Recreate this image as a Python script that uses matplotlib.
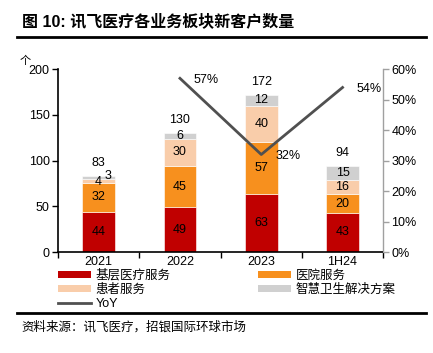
import matplotlib
matplotlib.use("Agg")
import matplotlib.pyplot as plt
import numpy as np
from matplotlib.lines import Line2D
from matplotlib.patches import Patch

plt.rcParams['font.family'] = ['Liberation Sans', 'Noto Sans CJK SC', 'DejaVu Sans']

categories = ['2021', '2022', '2023', '1H24']
primary = [44, 49, 63, 43]      # 基层医疗服务
hospital = [32, 45, 57, 20]     # 医院服务
patient = [4, 30, 40, 16]       # 患者服务
smart = [3, 6, 12, 15]          # 智慧卫生解决方案
totals = [83, 130, 172, 94]
yoy_cats = ['2022', '2023', '1H24']
yoy = [0.57, 0.32, 0.54]
yoy_labels = ['57%', '32%', '54%']

series_names = ['基层医疗服务', '医院服务', '患者服务', '智慧卫生解决方案']
colors = ['#C00000', '#F7901E', '#F9CDAA', '#D0D0D0']

fig = plt.figure(figsize=(4.33, 3.53), dpi=100)
ax = fig.add_axes([0.134, 0.286, 0.751, 0.518])
ax2 = ax.twinx()

x = np.arange(len(categories))
w = 0.4
bottom = np.zeros(len(categories))
for vals, c in zip([primary, hospital, patient, smart], colors):
    ax.bar(x, vals, w, bottom=bottom, color=c, edgecolor='white', linewidth=0.4, zorder=2)
    bottom += np.array(vals)

# segment labels
bottom = np.zeros(len(categories))
for si, vals in enumerate([primary, hospital, patient, smart]):
    for i, v in enumerate(vals):
        cy = bottom[i] + v / 2
        cx = x[i]
        if categories[i] == '2021' and si == 3:
            ax.text(cx + 0.12, cy + 2, str(v), ha='center', va='center', fontsize=9, color='black', zorder=5)
        elif categories[i] == '2021' and si == 2:
            ax.text(cx, cy - 1, str(v), ha='center', va='center', fontsize=9, color='black', zorder=5)
        else:
            ax.text(cx, cy, str(v), ha='center', va='center', fontsize=9, color='black', zorder=5)
    bottom += np.array(vals)

for i, t in enumerate(totals):
    ax.text(x[i], t + 14, str(t), ha='center', va='center', fontsize=9, color='black')

yx = [categories.index(c) for c in yoy_cats]
ax2.plot(yx, yoy, color='#505050', linewidth=2, zorder=3)
for xi, v, lab in zip(yx, yoy, yoy_labels):
    ax2.text(xi + 0.17, v - 0.005, lab, ha='left', va='center', fontsize=9, color='black')

ax.set_xlim(-0.5, 3.5)
ax.set_ylim(0, 200)
ax.set_yticks([0, 50, 100, 150, 200])
ax2.set_ylim(0, 0.6)
ax2.set_yticks(np.arange(0, 0.61, 0.1))
ax2.set_yticklabels([f'{int(round(v*100))}%' for v in np.arange(0, 0.61, 0.1)])

ax.set_xticks(x)
ax.set_xticklabels(categories)
ax.set_xticks(np.arange(-0.5, 4.0, 1), minor=True)
ax.tick_params(axis='x', which='major', length=0, labelsize=9, pad=3)
ax.tick_params(axis='x', which='minor', length=4, direction='out', width=1)
ax.tick_params(axis='y', labelsize=9, length=4, width=1, direction='out', pad=2)
ax2.tick_params(axis='y', labelsize=9, length=4, width=1, direction='out', colors='black', pad=2)

for a in (ax, ax2):
    a.spines['top'].set_visible(False)
ax.spines['left'].set_linewidth(1.2)
ax.spines['bottom'].set_linewidth(1.2)
ax2.spines['left'].set_visible(False)
ax2.spines['bottom'].set_visible(False)
ax2.spines['right'].set_color('#A0A0A0')
ax2.tick_params(axis='y', color='#A0A0A0', labelcolor='black')

ax.text(-0.1, 1.02, '个', transform=ax.transAxes, fontsize=8, ha='center', va='bottom',
        family=['Noto Sans CJK SC'])

# legend
handles = [Patch(facecolor=colors[0]), Patch(facecolor=colors[1]),
           Patch(facecolor=colors[2]), Patch(facecolor=colors[3]),
           Line2D([0], [0], color='#505050', linewidth=2)]
labels = series_names + ['YoY']
order = [0, 2, 4, 1, 3]
leg = fig.legend([handles[i] for i in order], [labels[i] for i in order], ncol=2,
                 loc='upper left', bbox_to_anchor=(0.12, 0.255), frameon=False,
                 handlelength=2.6, handleheight=0.5, labelspacing=0.15,
                 columnspacing=7.0, handletextpad=0.4, borderpad=0,
                 prop={'family': ['Liberation Sans', 'Noto Sans CJK SC'], 'size': 9})

# title and rules
fig.text(0.05, 0.94, '图 10: 讯飞医疗各业务板块新客户数量', fontsize=11.5, fontweight='bold',
         ha='left', va='center', family=['Liberation Sans', 'Noto Sans CJK SC'])
fig.add_artist(Line2D([0.04, 0.984], [0.895, 0.895], color='black', linewidth=2))
fig.add_artist(Line2D([0.04, 0.984], [0.113, 0.113], color='black', linewidth=2))
fig.text(0.05, 0.073, '资料来源：讯飞医疗，招银国际环球市场', fontsize=9, ha='left', va='center',
         family=['Noto Sans CJK SC'])

fig.savefig('out.png', dpi=100)
